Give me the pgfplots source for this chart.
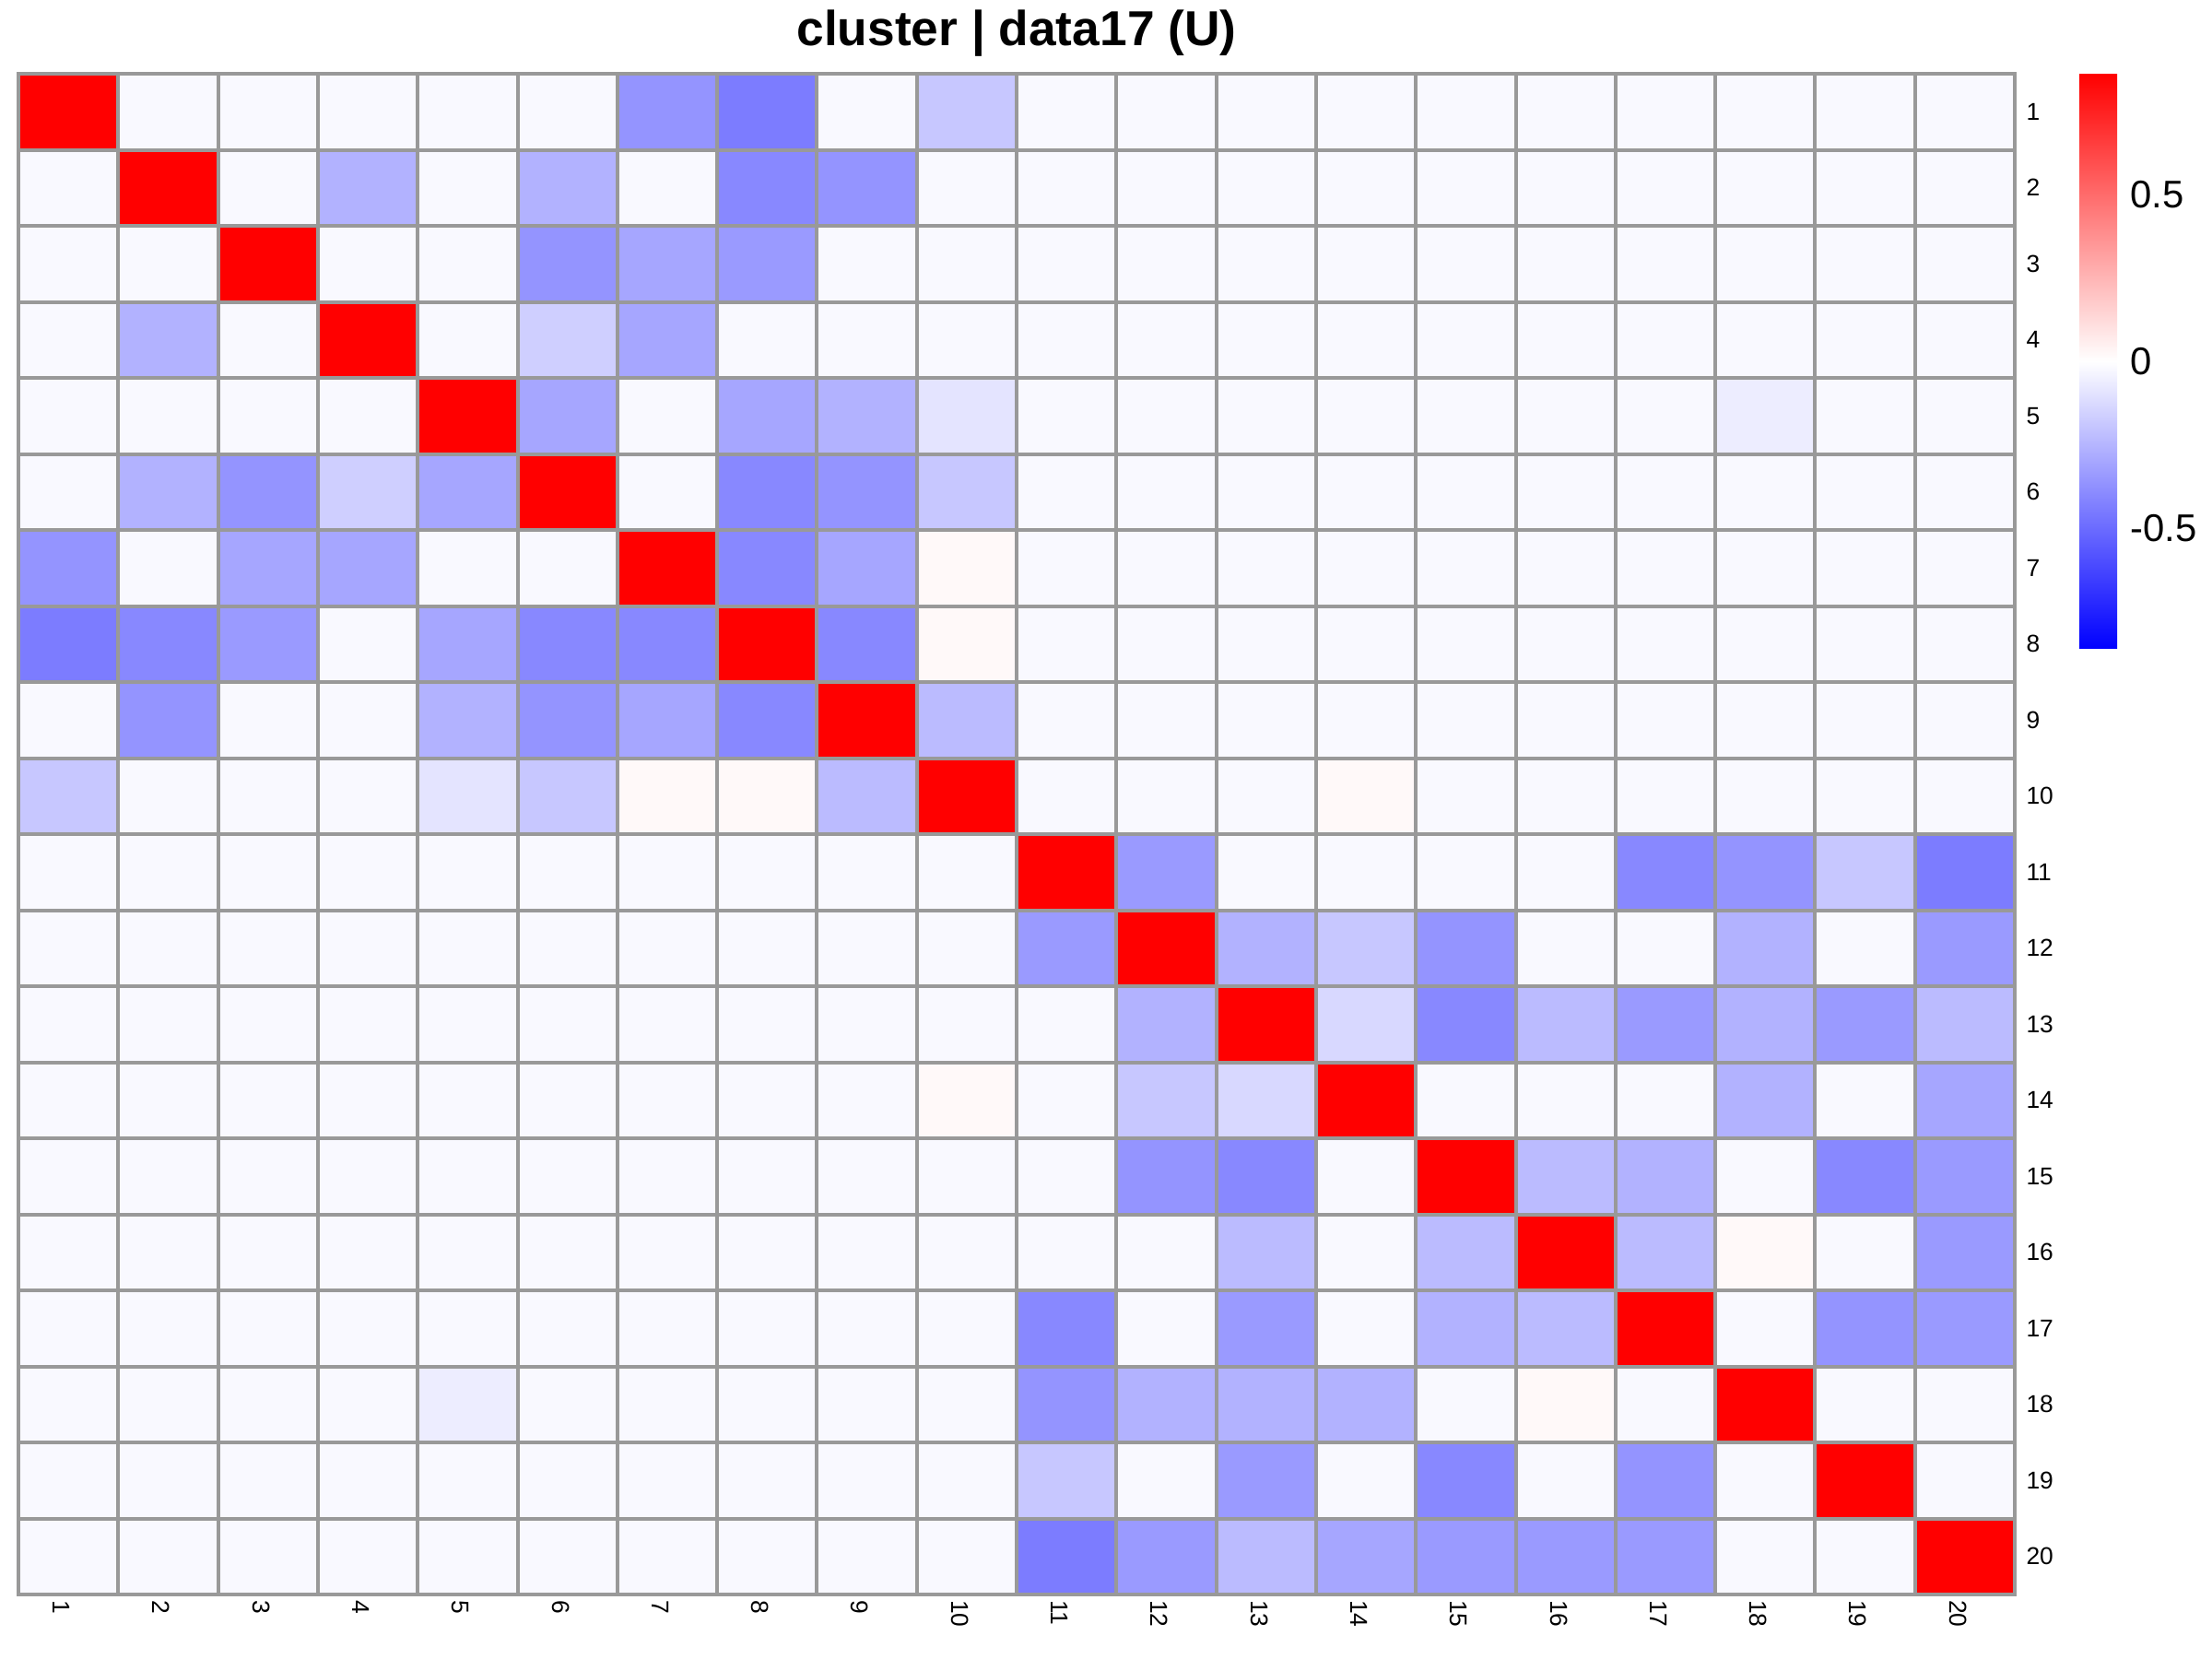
\documentclass[border=0pt]{standalone}
\usepackage{pgfplots}
\pgfplotsset{compat=1.18}
\usepackage{fontspec}
\setmainfont{Liberation Sans}
\begin{document}
\begin{tikzpicture}
\useasboundingbox (0,0) rectangle (480bp,360bp);
\begin{axis}[
  at={(4bp,14bp)}, anchor=south west,
  width=433.2bp, height=330bp, scale only axis,
  xmin=0.5, xmax=20.5, ymin=0.5, ymax=20.5,
  y dir=reverse, enlargelimits=false, clip=false,
  xtick={1,...,20}, ytick={1,...,20},
  minor xtick={0.5,1.5,...,20.5}, minor ytick={0.5,1.5,...,20.5},
  xminorgrids, yminorgrids,
  minor grid style={black!40, line width=0.8bp},
  axis on top,
  axis line style={black!40, line width=0.8bp},
  major tick length=0, minor tick length=0,
  yticklabel pos=right,
  /pgf/number format/assume math mode=true,
  xticklabel style={rotate=-90, anchor=west, font=\fontsize{5.3}{6}\selectfont, inner sep=1bp, yshift=-1.5bp},
  yticklabel style={anchor=west, font=\fontsize{5.3}{6}\selectfont, inner sep=1bp, xshift=1.3bp},
  colormap={bwr}{rgb255(0cm)=(0,0,255); rgb255(1cm)=(255,255,255); rgb255(2cm)=(255,0,0)},
  point meta min=-0.86, point meta max=0.86,
  colorbar,
  colorbar style={
    at={(parent axis.north east)}, anchor=north west, xshift=5.5bp,
    width=8.2bp, height=124.8bp, scale only axis,
    ytick={-0.5,0,0.5}, yticklabels={-0.5,0,0.5},
    yticklabel style={font=\fontsize{8.4}{10}\selectfont, xshift=-0.6bp},
    tick style={draw=none}, axis line style={draw=none},
  },
]
\addplot[matrix plot*, mesh/cols=20, point meta=explicit]
 table[row sep=\\, header=false, x expr={\coordindex-20*floor((\coordindex+0.5)/20)+1}, y expr={floor((\coordindex+0.5)/20)+1}, meta index=0] {
1\\-0.02\\-0.02\\-0.02\\-0.02\\-0.02\\-0.36\\-0.44\\-0.02\\-0.19\\-0.02\\-0.02\\-0.02\\-0.02\\-0.02\\-0.02\\-0.02\\-0.02\\-0.02\\-0.02\\
-0.02\\1\\-0.02\\-0.26\\-0.02\\-0.26\\-0.02\\-0.40\\-0.36\\-0.02\\-0.02\\-0.02\\-0.02\\-0.02\\-0.02\\-0.02\\-0.02\\-0.02\\-0.02\\-0.02\\
-0.02\\-0.02\\1\\-0.02\\-0.02\\-0.36\\-0.30\\-0.34\\-0.02\\-0.02\\-0.02\\-0.02\\-0.02\\-0.02\\-0.02\\-0.02\\-0.02\\-0.02\\-0.02\\-0.02\\
-0.02\\-0.26\\-0.02\\1\\-0.02\\-0.16\\-0.30\\-0.02\\-0.02\\-0.02\\-0.02\\-0.02\\-0.02\\-0.02\\-0.02\\-0.02\\-0.02\\-0.02\\-0.02\\-0.02\\
-0.02\\-0.02\\-0.02\\-0.02\\1\\-0.30\\-0.02\\-0.30\\-0.26\\-0.09\\-0.02\\-0.02\\-0.02\\-0.02\\-0.02\\-0.02\\-0.02\\-0.06\\-0.02\\-0.02\\
-0.02\\-0.26\\-0.36\\-0.16\\-0.30\\1\\-0.02\\-0.40\\-0.36\\-0.19\\-0.02\\-0.02\\-0.02\\-0.02\\-0.02\\-0.02\\-0.02\\-0.02\\-0.02\\-0.02\\
-0.36\\-0.02\\-0.30\\-0.30\\-0.02\\-0.02\\1\\-0.40\\-0.30\\0.02\\-0.02\\-0.02\\-0.02\\-0.02\\-0.02\\-0.02\\-0.02\\-0.02\\-0.02\\-0.02\\
-0.44\\-0.40\\-0.34\\-0.02\\-0.30\\-0.40\\-0.40\\1\\-0.40\\0.02\\-0.02\\-0.02\\-0.02\\-0.02\\-0.02\\-0.02\\-0.02\\-0.02\\-0.02\\-0.02\\
-0.02\\-0.36\\-0.02\\-0.02\\-0.26\\-0.36\\-0.30\\-0.40\\1\\-0.23\\-0.02\\-0.02\\-0.02\\-0.02\\-0.02\\-0.02\\-0.02\\-0.02\\-0.02\\-0.02\\
-0.19\\-0.02\\-0.02\\-0.02\\-0.09\\-0.19\\0.02\\0.02\\-0.23\\1\\-0.02\\-0.02\\-0.02\\0.02\\-0.02\\-0.02\\-0.02\\-0.02\\-0.02\\-0.02\\
-0.02\\-0.02\\-0.02\\-0.02\\-0.02\\-0.02\\-0.02\\-0.02\\-0.02\\-0.02\\1\\-0.34\\-0.02\\-0.02\\-0.02\\-0.02\\-0.40\\-0.36\\-0.19\\-0.44\\
-0.02\\-0.02\\-0.02\\-0.02\\-0.02\\-0.02\\-0.02\\-0.02\\-0.02\\-0.02\\-0.34\\1\\-0.26\\-0.19\\-0.36\\-0.02\\-0.02\\-0.26\\-0.02\\-0.34\\
-0.02\\-0.02\\-0.02\\-0.02\\-0.02\\-0.02\\-0.02\\-0.02\\-0.02\\-0.02\\-0.02\\-0.26\\1\\-0.13\\-0.40\\-0.23\\-0.34\\-0.26\\-0.34\\-0.23\\
-0.02\\-0.02\\-0.02\\-0.02\\-0.02\\-0.02\\-0.02\\-0.02\\-0.02\\0.02\\-0.02\\-0.19\\-0.13\\1\\-0.02\\-0.02\\-0.02\\-0.26\\-0.02\\-0.30\\
-0.02\\-0.02\\-0.02\\-0.02\\-0.02\\-0.02\\-0.02\\-0.02\\-0.02\\-0.02\\-0.02\\-0.36\\-0.40\\-0.02\\1\\-0.23\\-0.26\\-0.02\\-0.40\\-0.34\\
-0.02\\-0.02\\-0.02\\-0.02\\-0.02\\-0.02\\-0.02\\-0.02\\-0.02\\-0.02\\-0.02\\-0.02\\-0.23\\-0.02\\-0.23\\1\\-0.23\\0.02\\-0.02\\-0.34\\
-0.02\\-0.02\\-0.02\\-0.02\\-0.02\\-0.02\\-0.02\\-0.02\\-0.02\\-0.02\\-0.40\\-0.02\\-0.34\\-0.02\\-0.26\\-0.23\\1\\-0.02\\-0.36\\-0.34\\
-0.02\\-0.02\\-0.02\\-0.02\\-0.06\\-0.02\\-0.02\\-0.02\\-0.02\\-0.02\\-0.36\\-0.26\\-0.26\\-0.26\\-0.02\\0.02\\-0.02\\1\\-0.02\\-0.02\\
-0.02\\-0.02\\-0.02\\-0.02\\-0.02\\-0.02\\-0.02\\-0.02\\-0.02\\-0.02\\-0.19\\-0.02\\-0.34\\-0.02\\-0.40\\-0.02\\-0.36\\-0.02\\1\\-0.02\\
-0.02\\-0.02\\-0.02\\-0.02\\-0.02\\-0.02\\-0.02\\-0.02\\-0.02\\-0.02\\-0.44\\-0.34\\-0.23\\-0.30\\-0.34\\-0.34\\-0.34\\-0.02\\-0.02\\1\\
};
\node[anchor=base, font=\bfseries\fontsize{10.7}{12}\selectfont, yshift=6.2bp] at (axis description cs:0.5,1) {cluster | data17 (U)};
\end{axis}
\end{tikzpicture}
\end{document}
